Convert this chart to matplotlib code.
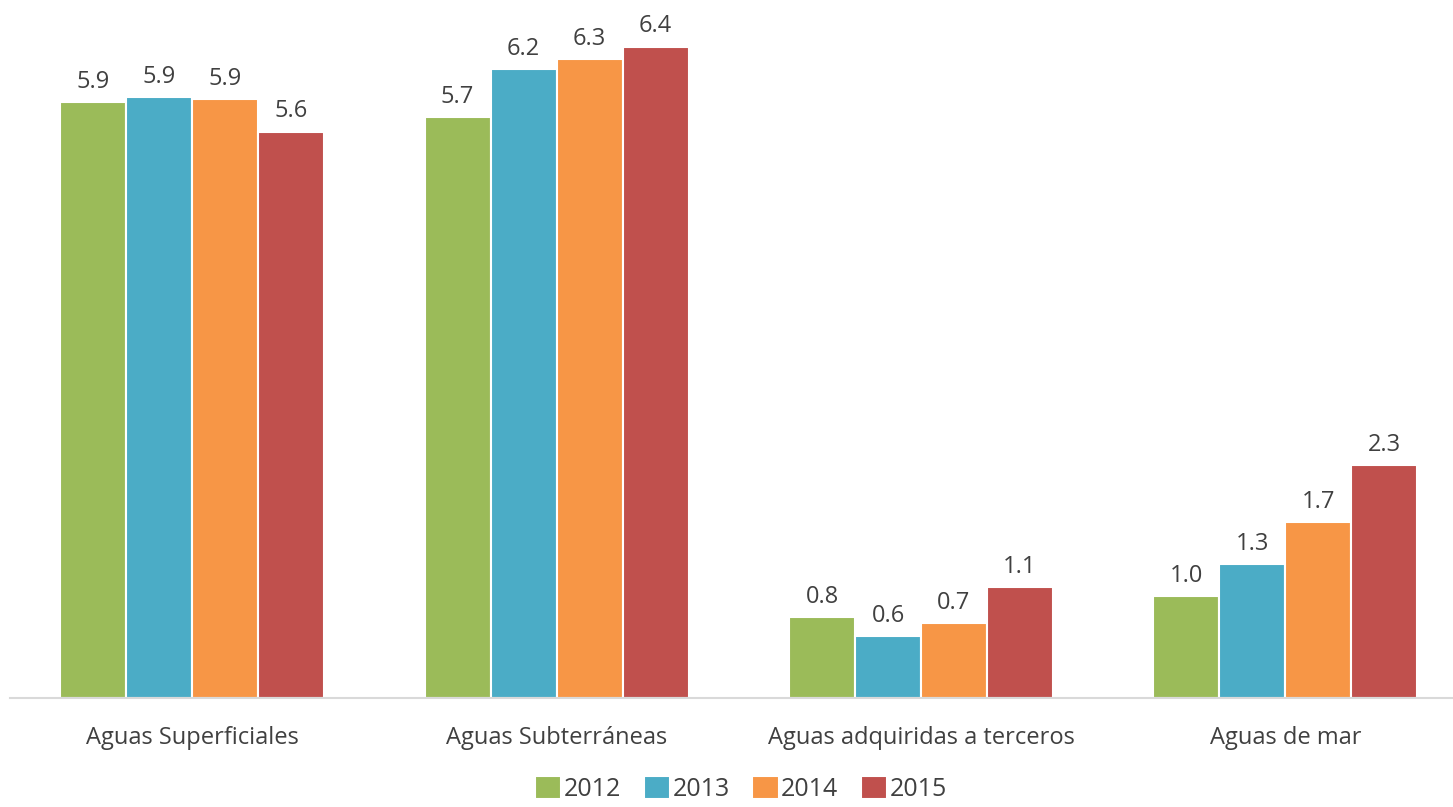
import numpy as np
import matplotlib
matplotlib.use("Agg")
import matplotlib.pyplot as plt

categories = ["Aguas Superficiales", "Aguas Subterráneas",
              "Aguas adquiridas a terceros", "Aguas de mar"]
years = ["2012", "2013", "2014", "2015"]
v2012 = [5.89, 5.74, 0.80, 1.01]
v2013 = [5.94, 6.22, 0.61, 1.32]
v2014 = [5.92, 6.32, 0.74, 1.74]
v2015 = [5.60, 6.44, 1.10, 2.30]
series = [v2012, v2013, v2014, v2015]
colors = ["#9BBB59", "#4BACC6", "#F79646", "#C0504D"]

plt.rcParams['font.family'] = ['Open Sans', 'DejaVu Sans']
TXT = '#404040'

fig = plt.figure(figsize=(14.53, 8.07), dpi=100)
ax = fig.add_axes([10/1453, 109/807, 1.0 - 10/1453, 698/807])

x = np.arange(len(categories))
w = 0.181
for i, (vals, c, yr) in enumerate(zip(series, colors, years)):
    pos = x + (i - 1.5) * w
    bars = ax.bar(pos, vals, width=w, color=c, edgecolor='white', linewidth=1.5,
                  label=yr, zorder=2)
    for b, v in zip(bars, vals):
        ax.text(b.get_x() + b.get_width()/2, v + 0.08, f"{v:.1f}",
                ha='center', va='bottom', fontsize=17, color=TXT)

ax.set_xlim(-0.5, 3.46)
ax.set_ylim(0, 6.9)
for s in ['top', 'right', 'left']:
    ax.spines[s].set_visible(False)
ax.spines['bottom'].set_color('#D9D9D9')
ax.spines['bottom'].set_linewidth(1.5)
ax.set_yticks([])
ax.set_xticks(x)
ax.set_xticklabels(categories, fontsize=17, color=TXT)
ax.tick_params(axis='x', length=0, pad=20)

fig.legend(loc='lower center', bbox_to_anchor=(0.51, -0.022), ncol=4, frameon=False,
           fontsize=18, handlelength=1.05, handleheight=1.05, handletextpad=0.1,
           columnspacing=0.9, labelcolor=TXT)

fig.savefig("out.png", dpi=100)
